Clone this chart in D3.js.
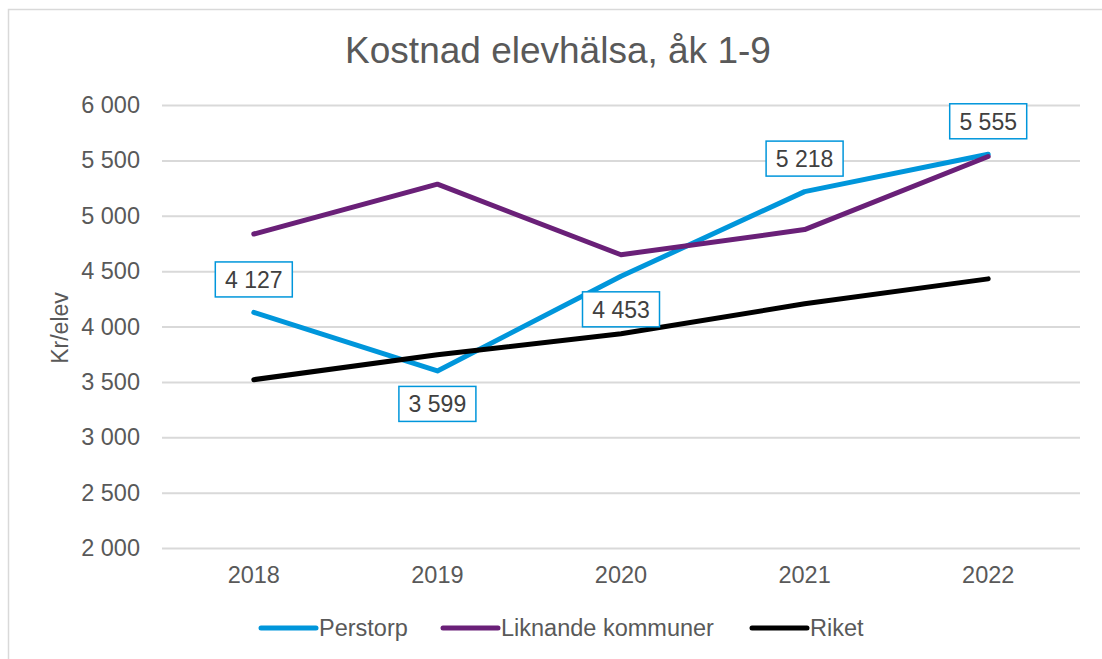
<!DOCTYPE html>
<html>
<head>
<meta charset="utf-8">
<script src="https://cdn.jsdelivr.net/npm/d3@7"></script>
<style>
  body { margin: 0; background: #fff; }
  svg { font-family: "Liberation Sans", Arial, sans-serif; }
</style>
</head>
<body>
<div id="chart-area"></div>
<script>
// Data
var years = ["2018", "2019", "2020", "2021", "2022"];
var perstorp = [4127, 3599, 4453, 5218, 5555];
var liknande = [4835, 5285, 4648, 4875, 5535];
var riket = [3520, 3745, 3935, 4205, 4430];
var yTicks = [2000, 2500, 3000, 3500, 4000, 4500, 5000, 5500, 6000];
// label above (-1) or below (+1) the point
var labelSide = [-1, 1, 1, -1, -1];

var series = [
  {name: "Perstorp", values: perstorp, color: "#0096db"},
  {name: "Liknande kommuner", values: liknande, color: "#6a2078"},
  {name: "Riket", values: riket, color: "#000000"}
];

// Chart config
var W = 1102, H = 659;
var margin = {top: 105, right: 22, bottom: 111, left: 162};
var width = W - margin.left - margin.right,
    height = H - margin.top - margin.bottom;
var fontFam = "Liberation Sans, Arial, sans-serif";

var svg = d3.select("#chart-area").append("svg")
    .attr("width", W).attr("height", H);

// outer border
svg.append("rect")
    .attr("x", 8.5).attr("y", 9.5)
    .attr("width", W + 10).attr("height", H + 10)
    .attr("fill", "none").attr("stroke", "#d9d9d9").attr("stroke-width", 1.5);

svg.append("text")
    .attr("x", 558).attr("y", 63)
    .attr("text-anchor", "middle")
    .attr("fill", "#595959")
    .style("font-size", "37px")
    .text("Kostnad elevhälsa, åk 1-9");

var g = svg.append("g")
    .attr("transform", "translate(" + margin.left + "," + margin.top + ")");

var xScale = d3.scaleBand().domain(years).range([0, width]);
var yScale = d3.scaleLinear().domain([2000, 6000]).range([height, 0]);
var fmt = function(v) { return d3.format(",")(v).replace(/,/g, " "); };

// grid
var yAxis = d3.axisLeft(yScale).tickValues(yTicks).tickSize(-width)
    .tickPadding(22).tickFormat(fmt);
var yAxisEl = g.append("g").call(yAxis);
yAxisEl.select(".domain").remove();
yAxisEl.selectAll("line").attr("stroke", "#d9d9d9").attr("stroke-width", 2);
yAxisEl.selectAll("text").attr("fill", "#595959").style("font-size", "23.5px")
    .style("font-family", fontFam);

var xAxis = d3.axisBottom(xScale).tickSize(0).tickPadding(18);
var xAxisEl = g.append("g").attr("transform", "translate(0," + height + ")").call(xAxis);
xAxisEl.select(".domain").remove();
xAxisEl.selectAll("text").attr("fill", "#595959").style("font-size", "23.5px")
    .style("font-family", fontFam);

svg.append("text")
    .attr("transform", "translate(68,328) rotate(-90)")
    .attr("text-anchor", "middle")
    .attr("fill", "#595959")
    .style("font-size", "23px")
    .text("Kr/elev");

var cx = function(i) { return xScale(years[i]) + xScale.bandwidth() / 2; };
var line = d3.line()
    .x(function(d, i) { return cx(i); })
    .y(function(d) { return yScale(d); });

g.selectAll("path.series").data(series).enter().append("path")
    .attr("class", "series")
    .attr("d", function(d) { return line(d.values); })
    .attr("fill", "none")
    .attr("stroke", function(d) { return d.color; })
    .attr("stroke-width", 5)
    .attr("stroke-linecap", "round")
    .attr("stroke-linejoin", "round");

// data labels for Perstorp
var labels = g.selectAll("g.dlabel").data(perstorp).enter().append("g")
    .attr("class", "dlabel")
    .attr("transform", function(d, i) {
      return "translate(" + cx(i) + "," + (yScale(d) + labelSide[i] * 33) + ")";
    });
labels.append("rect")
    .attr("x", -38.5).attr("y", -17.5).attr("width", 77).attr("height", 35)
    .attr("fill", "#fff").attr("stroke", "#0096db").attr("stroke-width", 1.5);
labels.append("text")
    .attr("text-anchor", "middle").attr("dy", "0.36em")
    .attr("fill", "#404040").style("font-size", "23px")
    .text(fmt);

// legend
var legendX = [261, 443, 752];
var legend = svg.selectAll("g.legend").data(series).enter().append("g")
    .attr("class", "legend")
    .attr("transform", function(d, i) { return "translate(" + legendX[i] + ",628)"; });
legend.append("line")
    .attr("x1", 0).attr("x2", 55)
    .attr("stroke", function(d) { return d.color; })
    .attr("stroke-width", 5).attr("stroke-linecap", "round");
legend.append("text")
    .attr("x", 58).attr("dy", "0.36em")
    .attr("fill", "#595959").style("font-size", "23.5px")
    .text(function(d) { return d.name; });
</script>
</body>
</html>
